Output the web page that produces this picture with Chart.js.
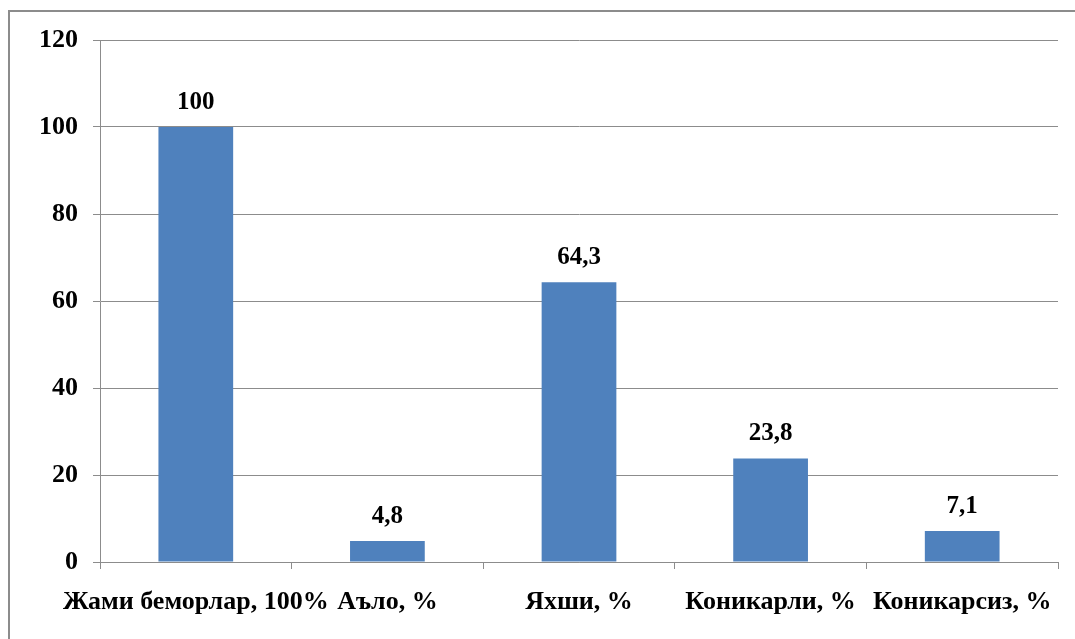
<!DOCTYPE html>
<html>
<head>
<meta charset="utf-8">
<script src="https://cdn.jsdelivr.net/npm/chart.js@4/dist/chart.umd.min.js"></script>
<style>
  html, body { margin: 0; padding: 0; background: #fff; overflow: hidden; }
  #wrap { position: relative; width: 1075px; height: 639px; }
  #frame { position: absolute; left: 8px; top: 10px; width: 1100px; height: 700px; border: 2px solid #8c8c8c; box-sizing: border-box; }
  canvas { position: absolute; left: 0; top: 0; }
</style>
</head>
<body>
<div id="wrap">
  <div id="frame"></div>
  <canvas id="myChart" width="1075" height="639"></canvas>
</div>
<script>
// podaci sa grafikona
const categories = ['Жами беморлар, 100%', 'Аъло, %', 'Яхши, %', 'Коникарли, %', 'Коникарсиз, %'];
const values = [100, 4.8, 64.3, 23.8, 7.1];
const yTicks = [0, 20, 40, 60, 80, 100, 120];

const serif = "'Liberation Serif', 'Times New Roman', serif";

// natpisi iznad stubova
const barLabels = {
  id: 'barLabels',
  afterDatasetsDraw(chart) {
    const ctx = chart.ctx;
    const meta = chart.getDatasetMeta(0);
    ctx.save();
    ctx.font = 'bold 25px ' + serif;
    ctx.fillStyle = '#000';
    ctx.textAlign = 'center';
    ctx.textBaseline = 'alphabetic';
    meta.data.forEach(function (bar, i) {
      let txt = String(values[i]).replace('.', ',');
      ctx.fillText(txt, bar.x, bar.y - 18);
    });
    ctx.restore();
  }
};

let ctx = document.getElementById('myChart').getContext('2d');
let chart = new Chart(ctx, {
  type: 'bar',
  data: {
    labels: categories,
    datasets: [{
      data: values,
      backgroundColor: '#4F81BD',
      borderWidth: 0,
      categoryPercentage: 1,
      barPercentage: 0.39
    }]
  },
  options: {
    responsive: false,
    animation: false,
    layout: { padding: { top: 40, right: 17, bottom: 0, left: 0 } },
    plugins: {
      legend: { display: false },
      tooltip: { enabled: false }
    },
    scales: {
      x: {
        afterFit: function (s) { s.height = 77; },
        grid: { drawOnChartArea: false, drawTicks: true, tickLength: 7, color: '#8c8c8c' },
        border: { color: '#8c8c8c' },
        ticks: {
          autoSkip: false, maxRotation: 0, minRotation: 0,
          padding: 18,
          color: '#000',
          font: { family: serif, size: 26, weight: 'bold' }
        }
      },
      y: {
        min: 0, max: 120,
        afterFit: function (s) { s.width = 100; },
        afterBuildTicks: function (s) { s.ticks = yTicks.map(v => ({ value: v })); },
        grid: { color: '#8c8c8c', tickLength: 7 },
        border: { color: '#8c8c8c' },
        ticks: {
          padding: 15,
          color: '#000',
          font: { family: serif, size: 26, weight: 'bold' }
        }
      }
    }
  },
  plugins: [barLabels]
});
</script>
</body>
</html>
